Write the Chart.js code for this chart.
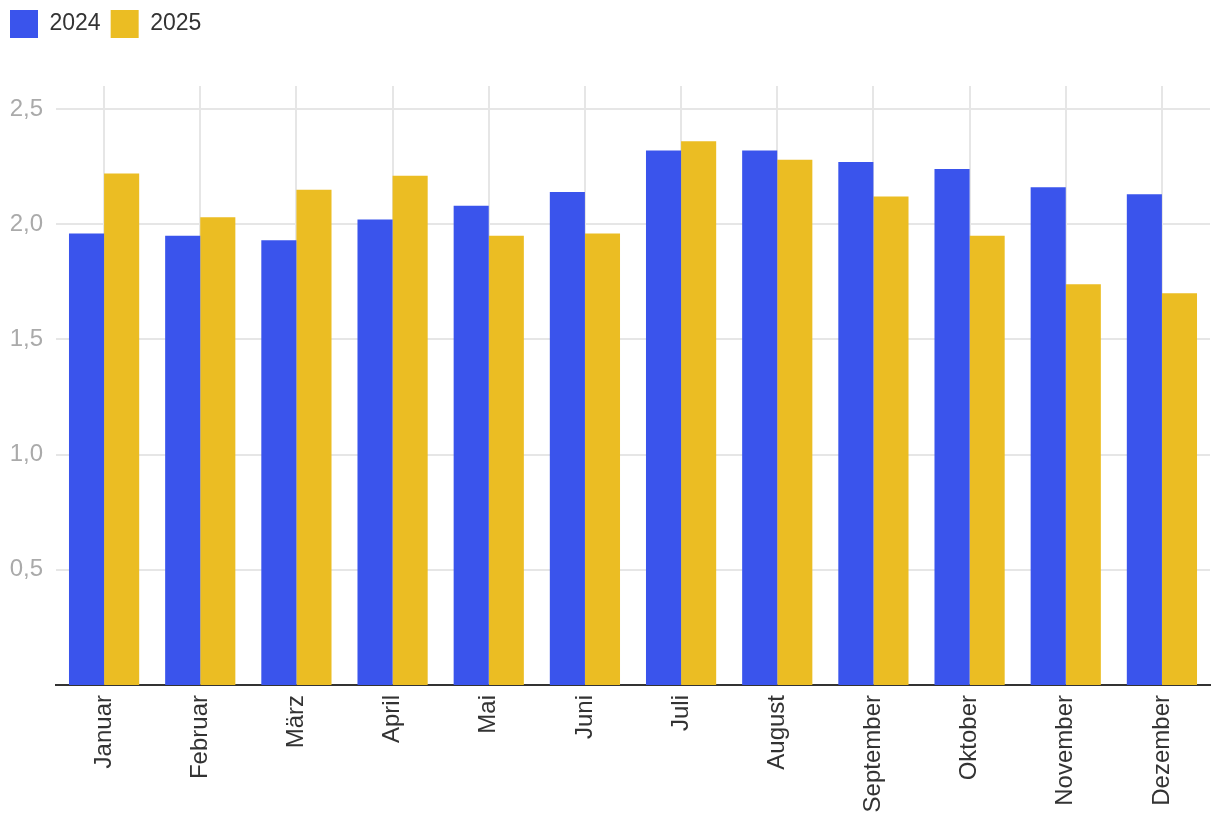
<!DOCTYPE html>
<html>
<head>
<meta charset="utf-8">
<script src="https://cdn.jsdelivr.net/npm/chart.js@4/dist/chart.umd.min.js"></script>
<style>
  html, body { margin: 0; padding: 0; background: #fff; }
  #wrap { width: 1220px; height: 830px; position: relative; }
</style>
</head>
<body>
<div id="wrap"><canvas id="chart"></canvas></div>
<script>
// Monatswerte 2024 / 2025
const months = ['Januar', 'Februar', 'März', 'April', 'Mai', 'Juni', 'Juli', 'August', 'September', 'Oktober', 'November', 'Dezember'];
const values2024 = [1.96, 1.95, 1.93, 2.02, 2.08, 2.14, 2.32, 2.32, 2.27, 2.24, 2.16, 2.13];
const values2025 = [2.22, 2.03, 2.15, 2.21, 1.95, 1.96, 2.36, 2.28, 2.12, 1.95, 1.74, 1.70];
const yTicks = [0.5, 1.0, 1.5, 2.0, 2.5];

const font = "'Liberation Sans', Arial, Helvetica, sans-serif";

// legend takes the whole band above the plot
const legendHeight = {
    id: 'legendHeight',
    beforeLayout(chart) {
        const legend = chart.legend;
        if (legend && !legend._patched) {
            const fit = legend.fit;
            legend.fit = function () {
                fit.call(this);
                this.height = 86;
            };
            legend._patched = true;
        }
    }
};

const ctx = document.getElementById('chart');
new Chart(ctx, {
    type: 'bar',
    data: {
        labels: months,
        datasets: [
            { label: '2024', data: values2024, backgroundColor: '#3a54ec' },
            { label: '2025', data: values2025, backgroundColor: '#ebbd23' }
        ]
    },
    options: {
        responsive: true,
        maintainAspectRatio: false,
        animation: false,
        layout: { padding: { left: 0, right: 10, top: 0, bottom: 0 } },
        datasets: {
            bar: { categoryPercentage: 0.73, barPercentage: 1.0, borderWidth: 0 }
        },
        plugins: {
            legend: {
                position: 'top',
                align: 'start',
                labels: {
                    boxWidth: 28,
                    boxHeight: 28,
                    padding: 10,
                    color: '#333',
                    font: { family: font, size: 23 }
                }
            },
            tooltip: { enabled: false }
        },
        scales: {
            x: {
                grid: { offset: false, color: '#e6e6e6', lineWidth: 2, drawTicks: false },
                border: { display: true, color: '#333', width: 2 },
                ticks: {
                    minRotation: 90,
                    maxRotation: 90,
                    padding: 10,
                    color: '#333',
                    font: { family: font, size: 24 }
                },
                afterFit(scale) { scale.height = 145; }
            },
            y: {
                min: 0,
                max: 2.6,
                bounds: 'data',
                grid: { color: '#e6e6e6', lineWidth: 2, drawTicks: false },
                border: { display: false },
                ticks: {
                    stepSize: 0.5,
                    includeBounds: false,
                    padding: 13,
                    color: '#aaa',
                    font: { family: font, size: 24 },
                    callback: v => v.toFixed(1).replace('.', ',')
                },
                afterBuildTicks(scale) {
                    scale.ticks = yTicks.map(v => ({ value: v }));
                },
                afterFit(scale) { scale.width = 56; }
            }
        }
    },
    plugins: [legendHeight]
});
</script>
</body>
</html>
